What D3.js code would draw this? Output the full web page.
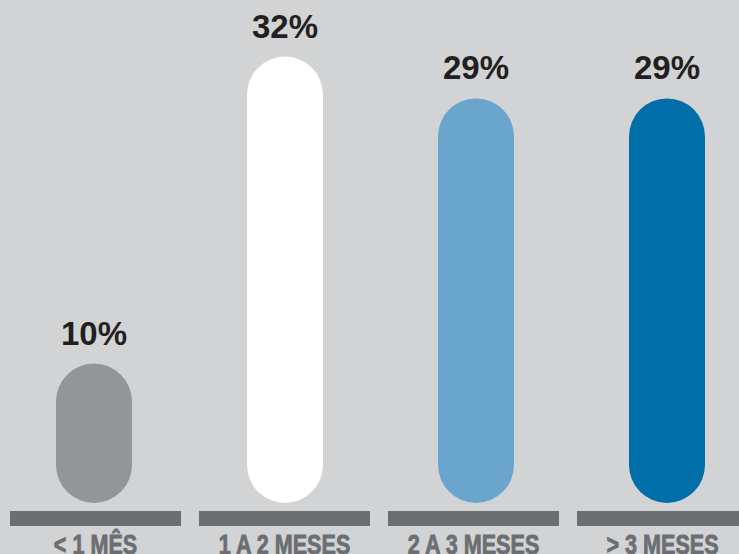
<!DOCTYPE html>
<html>
<head>
<meta charset="utf-8">
<script src="https://cdn.jsdelivr.net/npm/d3@7"></script>
<style>
  html, body { margin: 0; padding: 0; background: #d1d3d4; }
  svg { display: block; }
</style>
</head>
<body>
<svg id="chart" width="739" height="554"></svg>
<script>
// Share of respondents by duration
const categories = ["< 1 MÊS", "1 A 2 MESES", "2 A 3 MESES", "> 3 MESES"];
const values = [10, 32, 29, 29];
const valueLabels = ["10%", "32%", "29%", "29%"];
const barColors = ["#939598", "#ffffff", "#6aa5cd", "#006ea8"];

const W = 739, H = 554;
const svg = d3.select("#chart");

svg.append("rect").attr("width", W).attr("height", H).attr("fill", "#d1d3d4");

// bar centres
const xBar = d3.scalePoint().domain(categories).range([94, 667]);
// base strips and category labels
const xBase = d3.scaleBand().domain(categories).range([10, 748])
  .paddingInner(18 / 189).paddingOuter(0);

const y = d3.scaleLinear().domain([0, 32]).range([503, 56.6]);

const barW = 76;
const data = categories.map((c, i) => ({ c, v: values[i], label: valueLabels[i], color: barColors[i] }));

// pill-shaped bars
svg.append("g").selectAll("rect").data(data).join("rect")
  .attr("x", d => xBar(d.c) - barW / 2)
  .attr("y", d => y(d.v))
  .attr("width", barW)
  .attr("height", d => y(0) - y(d.v))
  .attr("rx", barW / 2)
  .attr("ry", barW / 2)
  .attr("fill", d => d.color);

// value labels
svg.append("g").selectAll("text").data(data).join("text")
  .attr("x", d => xBar(d.c))
  .attr("y", d => y(d.v) - 19)
  .attr("text-anchor", "middle")
  .attr("font-family", "'Liberation Sans', Arial, sans-serif")
  .attr("font-weight", "bold")
  .attr("font-size", 33)
  .attr("fill", "#231f20")
  .text(d => d.label);

// base strips
svg.append("g").selectAll("rect").data(data).join("rect")
  .attr("x", d => xBase(d.c))
  .attr("y", 511)
  .attr("width", xBase.bandwidth())
  .attr("height", 15)
  .attr("fill", "#6d6e71");

// category labels, condensed horizontally and slightly heavier
svg.append("g").selectAll("text").data(data).join("text")
  .attr("transform", d => `translate(${xBase(d.c) + xBase.bandwidth() / 2},554) scale(0.8,1)`)
  .attr("text-anchor", "middle")
  .attr("font-family", "'Liberation Sans', Arial, sans-serif")
  .attr("font-weight", "bold")
  .attr("font-size", 27)
  .attr("fill", "#6d6e71")
  .attr("stroke", "#6d6e71")
  .attr("stroke-width", 0.8)
  .text(d => d.c);
</script>
</body>
</html>
